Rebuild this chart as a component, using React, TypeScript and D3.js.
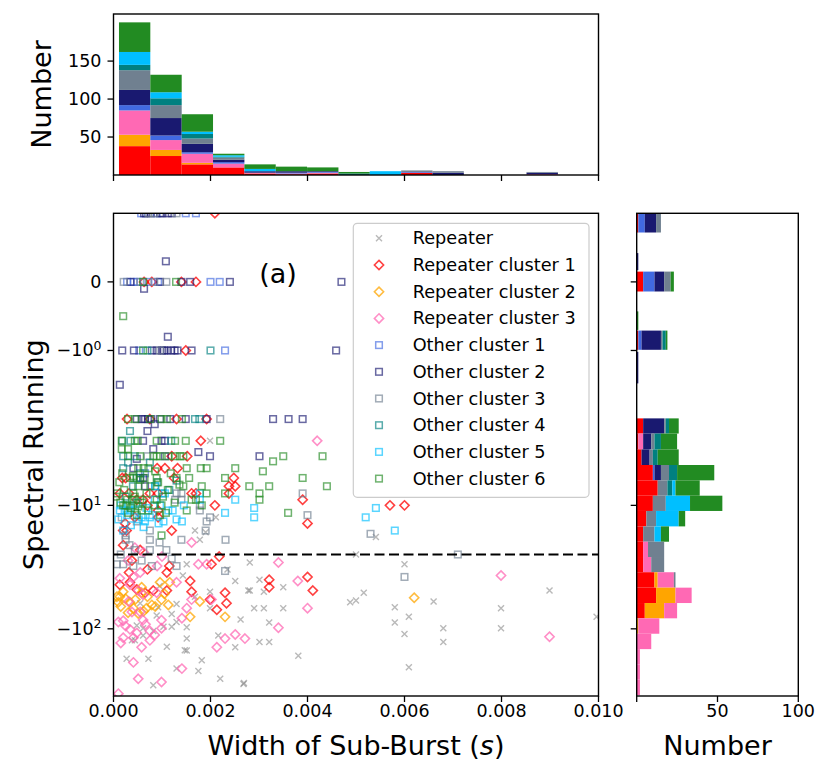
import * as d3 from 'd3'

// widths in ms, spectral running values
const repeater: [number, number][] = [
  [1.51, -30], [1.30, -63], [0.89, -78], [0.61, -99], [1.20, -76], [1.03, -96], [0.82, -104], [1.51, -120],
  [1.51, -150], [0.27, -175], [0.72, -175], [0.38, -124], [1.82, -180], [1.75, -220], [1.30, -210], [0.82, -287],
  [2.20, -254], [1.99, -50], [2.51, -41], [2.68, -280], [2.16, -113], [2.51, -141], [2.78, -49], [1.68, -55],
  [1.99, -68], [0.48, -94], [0.61, -113], [1.20, -96], [2.81, -29], [3.01, -40], [2.81, -49], [3.10, -50],
  [3.50, -46], [2.90, -68], [3.10, -68], [3.50, -68], [3.21, -89], [3.01, -128], [3.21, -128], [3.81, -165],
  [2.69, -275], [4.88, -61], [5.00, -59], [5.16, -51], [5.80, -67], [5.80, -89], [6.00, -30], [6.09, -80],
  [6.00, -110], [6.09, -205], [6.60, -60], [6.80, -99], [6.80, -128], [7.99, -68], [7.99, -99], [8.99, -49],
  [9.96, -80], [5.41, -18], [5.00, -25], [1.99, -3], [2.11, -12.5], [1.68, -16], [1.90, -16.5], [1.78, -19],
  [1.47, -149], [1.51, -97], [1.30, -88], [0.92, -67], [0.44, -124], [1.43, -37], [0.95, -45], [0.55, -62],
  [1.10, -140], [2.35, -33], [2.62, -84],
]
const repCluster1: [number, number][] = [
  [2.09, 1], [0.63, 0], [0.79, 0], [1.40, 0], [1.70, 0], [1.49, -1], [0.28, -2], [1.30, -2], [1.92, -2], [0.75, -2],
  [1.80, -3], [1.20, -4], [1.52, -4], [0.90, -5], [1.06, -5], [1.32, -5], [0.18, -6], [0.25, -6], [1.25, -6],
  [2.48, -6], [2.38, -7], [2.51, -7], [0.13, -8], [0.32, -8], [0.75, -8], [0.92, -8], [1.61, -8], [1.70, -8],
  [2.38, -8], [0.48, -9], [0.61, -9], [3.90, -9], [0.70, -10], [2.09, -10], [5.70, -10], [6.00, -10], [0.92, -11],
  [0.44, -12.5], [0.92, -12.5], [0.24, -14], [4.00, -14], [0.20, -16], [0.27, -16], [1.20, -16], [2.18, -26],
  [2.02, -30], [0.32, -35], [0.13, -44], [0.48, -48], [0.82, -49], [1.10, -35], [1.58, -41], [1.61, -50],
  [1.99, -58], [2.13, -70], [2.30, -51], [2.33, -62], [0.34, -42], [0.65, -51], [1.10, -49], [3.21, -40],
  [3.21, -46], [4.00, -38], [4.11, -49], [0.20, -21], [0.55, -23], [0.38, -28], [1.15, -31], [0.70, -33],
]
const repCluster2: [number, number][] = [
  [0.13, -55], [0.20, -50], [0.10, -61], [0.58, -51], [0.51, -75], [0.79, -64], [0.99, -58], [1.13, -64],
  [0.96, -42], [1.16, -42], [1.78, -60], [1.58, -80], [2.30, -80], [0.34, -61], [0.41, -68], [0.68, -68],
  [0.07, -55], [0.58, -46], [6.20, -56], [0.25, -57], [0.45, -58], [0.62, -72], [0.86, -66], [1.05, -52],
  [0.30, -74], [0.15, -66], [0.70, -55],
]
const repCluster3: [number, number][] = [
  [1.61, -20], [4.20, -3], [0.44, -22], [0.30, -28], [0.90, -31], [0.62, -24], [1.00, -26], [0.13, -39],
  [0.41, -38], [0.55, -35], [0.34, -44], [0.51, -49], [0.61, -53], [0.31, -60], [0.38, -73], [0.55, -73],
  [0.61, -85], [0.10, -88], [0.34, -101], [0.20, -118], [0.41, -118], [0.58, -141], [0.75, -124], [0.99, -85],
  [0.99, -99], [1.41, -82], [1.61, -58], [1.51, -68], [1.75, -30], [1.92, -30], [2.02, -58], [1.30, -42],
  [1.41, -210], [0.51, -254], [0.99, -270], [0.41, -187], [2.30, -120], [2.51, -111], [2.71, -120], [2.13, -141],
  [0.10, -335], [0.75, -104], [0.20, -86], [0.89, -51], [3.40, -29], [3.80, -41], [4.00, -68], [3.40, -98],
  [7.99, -37], [8.99, -116], [0.25, -95], [0.48, -108], [0.15, -130], [0.85, -112], [0.66, -92],
]
const otherCluster1: [number, number][] = [
  [0.57, 1], [0.89, 1], [1.70, 1], [1.49, 1], [0.28, 0], [0.42, 0], [0.72, 0], [2.00, 0], [2.19, 0], [0.49, 0],
  [0.92, 0], [2.30, -1], [0.53, -1], [0.65, -5.5],
]
const otherCluster2: [number, number][] = [
  [0.67, 1], [0.77, 1], [1.01, 1], [1.20, 1], [0.63, 1], [0.96, 1], [1.12, 1], [1.08, 0.3], [0.35, 0], [1.40, 0],
  [1.58, 0], [2.40, 0], [0.63, -0.1], [0.96, 0], [4.70, 0], [1.12, -0.8], [0.18, -1], [0.42, -1], [0.79, -1],
  [0.89, -1], [1.10, -1], [1.19, -1], [1.26, -1], [1.32, -1], [1.61, -1], [4.59, -1], [1.00, -1], [1.04, -1],
  [0.13, -1.5], [0.58, -2], [0.65, -2], [0.71, -2], [0.85, -2.2], [0.96, -2], [1.92, -2], [3.29, -2], [3.61, -2],
  [3.90, -2], [0.48, -2], [1.17, -2], [1.49, -2], [0.78, -2], [0.70, -2.5], [0.61, -3], [0.99, -3], [1.06, -3],
  [0.82, -3.5], [1.06, -4], [1.75, -3.7], [1.99, -4], [3.01, -4], [0.41, -5], [0.55, -6], [0.61, -6], [0.65, -7],
  [0.48, -4.2],
]
const otherCluster3: [number, number][] = [
  [0.72, 1], [1.30, 1], [0.84, 1], [0.55, 0], [0.84, 0], [1.09, 0], [0.21, 0], [0.96, -1], [2.20, -2], [0.70, -4],
  [1.30, -8], [1.40, -8], [3.90, -8], [1.27, -9], [1.40, -9], [1.78, -10], [1.78, -11], [0.17, -12.5], [1.99, -12.5],
  [4.00, -12], [0.48, -13.5], [1.92, -13.5], [0.75, -16], [1.90, -16], [0.25, -17.5], [5.30, -17], [0.25, -19],
  [0.75, -19], [1.40, -19], [2.31, -19], [0.44, -23], [0.75, -23], [1.09, -23], [7.10, -25], [0.07, -30],
  [0.20, -30], [0.41, -31], [0.58, -28], [0.79, -31], [1.30, -31], [2.30, -34], [6.00, -38], [0.33, -21],
  [0.95, -20], [1.20, -27], [0.15, -25],
]
const otherCluster4: [number, number][] = [
  [0.70, -1], [2.00, -1], [1.68, -2], [1.77, -2], [0.34, -2.5], [0.18, -3], [0.35, -3], [1.19, -3], [0.20, -4],
  [0.44, -4], [0.20, -5], [0.48, -6], [0.86, -7], [1.00, -8], [0.30, -4.5], [0.55, -5.5], [0.90, -6.5],
  [1.15, -7.5], [0.40, -7], [0.75, -4.5], [1.30, -6.3], [0.25, -8.5],
]
const otherCluster5: [number, number][] = [
  [0.86, -7], [1.06, -8], [1.78, -8], [1.78, -9], [2.51, -9], [0.31, -10], [0.96, -10], [2.30, -11.5], [5.41, -10.5],
  [0.13, -11], [0.23, -11], [0.34, -11], [1.13, -11], [0.58, -12.5], [0.75, -12.5], [2.90, -12.5], [5.20, -12.5],
  [0.65, -13.5], [1.03, -13.5], [1.41, -13.5], [0.20, -16], [5.80, -16], [2.90, -10.5], [0.15, -10], [0.28, -12],
  [0.45, -11], [0.52, -13], [0.68, -10.5], [0.80, -12], [0.93, -14], [1.22, -11], [0.36, -14.5], [0.10, -13],
  [0.62, -15], [1.45, -10], [0.48, -9.5], [0.85, -9], [1.30, -13],
]
const otherCluster6: [number, number][] = [
  [0.61, 0], [1.29, 0], [0.20, -0.5], [0.61, -1], [0.30, -2], [0.75, -2], [0.99, -2], [1.41, -2], [1.10, -2],
  [0.45, -2], [0.17, -3], [0.44, -3], [0.50, -3], [0.89, -3], [1.27, -3], [1.49, -3], [2.20, -3], [0.17, -3.5],
  [0.30, -3.5], [0.30, -4], [0.55, -4], [0.82, -4], [0.89, -4], [0.96, -4], [1.13, -4], [1.27, -4], [1.37, -4],
  [1.44, -4], [3.50, -4], [4.31, -4], [3.29, -4.4], [0.51, -5], [0.62, -5], [0.72, -5], [1.51, -5], [1.80, -5],
  [1.92, -5], [2.51, -5], [3.08, -5.3], [0.34, -6], [0.41, -6], [0.55, -6.2], [0.89, -6], [1.30, -6], [2.30, -6],
  [3.90, -6], [0.51, -7], [1.44, -7], [1.82, -7], [2.80, -7], [3.21, -7], [4.40, -7], [0.07, -8], [0.41, -8],
  [1.92, -8], [2.30, -8], [3.01, -8], [0.38, -9], [0.55, -9], [0.89, -9], [1.61, -9], [3.01, -9], [0.20, -10],
  [0.25, -10], [0.41, -10], [0.51, -10.2], [0.99, -10], [1.82, -10], [0.58, -11], [1.51, -11], [3.60, -11.5],
  [0.99, -17.5], [0.12, -6.5], [0.22, -7.5], [0.28, -9], [0.36, -10.5], [0.44, -8.5], [0.60, -9.5], [0.68, -8],
  [0.76, -7], [0.84, -10], [0.92, -6.5], [1.02, -8.5], [1.08, -11.5], [1.18, -5.5], [1.26, -9.5], [0.18, -5.5],
  [0.64, -6], [0.30, -11.5], [0.48, -12], [1.56, -6], [1.70, -9], [0.05, -8.5], [0.14, -9.5], [0.72, -11],
  [0.96, -12], [1.12, -7.5], [1.36, -6.8], [0.40, -5.8], [0.86, -5.3],
]

// histogram stacks: order = clusters below
const clusterNames = [
  'Repeater cluster 1', 'Repeater cluster 2', 'Repeater cluster 3',
  'Other cluster 1', 'Other cluster 2', 'Other cluster 3', 'Other cluster 4', 'Other cluster 5', 'Other cluster 6',
]
const clusterColors = ['red', 'orange', 'hotpink', 'royalblue', 'midnightblue', 'slategray', 'teal', 'deepskyblue', 'forestgreen']

// width bins (ms) for the top histogram
const widthBinEdges = [0.113, 0.759, 1.406, 2.052, 2.699, 3.345, 3.991, 4.638, 5.284, 5.931, 6.577, 7.223, 7.870, 8.516, 9.163, 9.809]
const widthCounts = [
  [38, 15, 32, 7, 20, 26, 7, 17, 39],
  [25, 8, 13, 6, 23, 17, 9, 8, 23],
  [14, 2, 12, 2, 11, 7, 6, 3, 23],
  [10, 0, 5, 2, 3, 3, 1, 2, 2],
  [2, 0, 1, 0, 2, 0, 0, 3, 6],
  [1, 0, 1, 1, 2, 0, 0, 0, 6],
  [2, 0, 1, 1, 1, 0, 0, 0, 5],
  [0, 0, 0, 0, 0, 0, 2, 0, 2],
  [0, 0, 0, 0, 0, 0, 0, 5, 0],
  [3, 0, 0, 1, 0, 2, 0, 0, 0],
  [0, 0, 0, 0, 3, 2, 0, 0, 0],
  [0, 0, 0, 0, 0, 0, 0, 0, 0],
  [0, 0, 0, 0, 0, 0, 0, 0, 0],
  [0, 0, 1, 0, 2, 1, 0, 0, 0],
  [0, 0, 0, 0, 0, 0, 0, 0, 0],
]

// spectral running bins for the side histogram [upper, lower]
const runBins: [number, number][] = [
  [1.0, 0.72], [0.42, 0.17], [0.15, -0.14], [-0.43, -0.70], [-0.71, -0.99], [-1.02, -1.48],
  [-1.99, -2.62], [-2.62, -3.52], [-3.52, -4.71], [-4.71, -6.27], [-6.27, -8.35], [-8.35, -11.1],
  [-11.1, -14.8], [-14.8, -19.7], [-19.7, -26.2], [-26.2, -34.8], [-34.8, -46.4], [-46.4, -61.8],
  [-61.8, -82.2], [-82.2, -109.6], [-109.6, -146], [-146, -194], [-194, -258], [-258, -344],
]
const runCounts = [
  [1, 0, 0, 4, 7, 3, 0, 0, 0],
  [0, 0, 0, 0, 1, 0, 0, 0, 0],
  [4, 0, 0, 7, 6, 4, 0, 0, 2],
  [0, 0, 0, 0, 0, 0, 0, 0, 1],
  [1, 0, 0, 2, 12, 1, 2, 0, 1],
  [0, 0, 0, 0, 1, 0, 0, 0, 0],
  [4, 0, 0, 0, 13, 1, 2, 0, 6],
  [1, 0, 3, 0, 5, 2, 4, 0, 10],
  [3, 0, 0, 0, 5, 2, 3, 0, 13],
  [10, 0, 0, 1, 4, 5, 5, 0, 23],
  [13, 0, 0, 0, 0, 6, 3, 2, 15],
  [10, 0, 0, 0, 0, 8, 0, 15, 20],
  [6, 0, 0, 0, 0, 6, 0, 14, 4],
  [4, 0, 0, 0, 0, 7, 0, 4, 5],
  [4, 0, 3, 0, 0, 10, 0, 0, 0],
  [4, 0, 5, 0, 0, 8, 0, 0, 0],
  [11, 2, 10, 0, 0, 1, 0, 0, 0],
  [12, 12, 10, 0, 0, 0, 0, 0, 0],
  [5, 12, 8, 0, 0, 0, 0, 0, 0],
  [0, 1, 13, 0, 0, 0, 0, 0, 0],
  [0, 0, 9, 0, 0, 0, 0, 0, 0],
  [0, 0, 2, 0, 0, 0, 0, 0, 0],
  [0, 0, 2, 0, 0, 0, 0, 0, 0],
  [0, 0, 2, 0, 0, 0, 0, 0, 0],
]

const xTicks = [0, 0.002, 0.004, 0.006, 0.008, 0.010]
const yTicks: [number, string | null][] = [[0, null], [-1, '0'], [-10, '1'], [-100, '2']]
const topTicks = [50, 100, 150]
const sideTicks = [50, 100]
const cutoff = -25

// matplotlib-style symlog transform (linthresh 2, linscale 1)
const LINTHRESH = 2
const LINSCALE = 1 / (1 - 1 / 10)
const symT = (v: number) => {
  const a = Math.abs(v)
  return a <= LINTHRESH ? v * LINSCALE : Math.sign(v) * LINTHRESH * (LINSCALE + Math.log10(a / LINTHRESH))
}

const FONT = 'DejaVu Sans, sans-serif'
const M = { left: 113.5, right: 598.5, top: 213.3, bottom: 696 }
const T = { top: 14, bottom: 175 }
const S = { left: 636.7, right: 798.3 }

export default function App() {
  const x = d3.scaleLinear().domain([0, 0.010]).range([M.left, M.right])
  const yLin = d3.scaleLinear().domain([symT(1), symT(-350)]).range([M.top, M.bottom])
  const y = (v: number) => yLin(symT(v))
  const yTop = d3.scaleLinear().domain([0, 212]).range([T.bottom, T.top])
  const xSide = d3.scaleLinear().domain([0, 100]).range([S.left, S.right])

  const series = [
    { name: 'Repeater', data: repeater, color: 'gray', marker: 'x' },
    { name: clusterNames[0], data: repCluster1, color: clusterColors[0], marker: 'd' },
    { name: clusterNames[1], data: repCluster2, color: clusterColors[1], marker: 'd' },
    { name: clusterNames[2], data: repCluster3, color: clusterColors[2], marker: 'd' },
    { name: clusterNames[3], data: otherCluster1, color: clusterColors[3], marker: 's' },
    { name: clusterNames[4], data: otherCluster2, color: clusterColors[4], marker: 's' },
    { name: clusterNames[5], data: otherCluster3, color: clusterColors[5], marker: 's' },
    { name: clusterNames[6], data: otherCluster4, color: clusterColors[6], marker: 's' },
    { name: clusterNames[7], data: otherCluster5, color: clusterColors[7], marker: 's' },
    { name: clusterNames[8], data: otherCluster6, color: clusterColors[8], marker: 's' },
  ]

  const marker = (kind: string, color: string, cx: number, cy: number, key: string | number) => {
    if (kind === 'x') {
      return <path key={key} d={`M${cx - 3},${cy - 3}L${cx + 3},${cy + 3}M${cx - 3},${cy + 3}L${cx + 3},${cy - 3}`}
        stroke={color} strokeOpacity={0.55} strokeWidth={1.4} fill="none" />
    }
    if (kind === 'd') {
      const r = 4.6
      return <path key={key} d={`M${cx},${cy - r}L${cx + r},${cy}L${cx},${cy + r}L${cx - r},${cy}Z`}
        stroke={color} strokeOpacity={0.75} strokeWidth={1.6} fill="none" />
    }
    const h = 3.3
    return <rect key={key} x={cx - h} y={cy - h} width={2 * h} height={2 * h}
      stroke={color} strokeOpacity={0.65} strokeWidth={1.5} fill="none" />
  }

  const stacks = (counts: number[]) => {
    let acc = 0
    return counts.map(c => { const s = [acc, acc + c]; acc += c; return s })
  }

  const tickStyle = { stroke: '#000', strokeWidth: 1.3 }

  return (
    <svg width={831} height={778} style={{ position: 'absolute', left: 0, top: 0, background: '#fff' }}
      fontFamily={FONT}>
      <defs>
        <clipPath id="mainclip"><rect x={M.left} y={M.top} width={M.right - M.left} height={M.bottom - M.top} /></clipPath>
      </defs>

      {/* top histogram */}
      <g>
        {widthCounts.map((counts, i) => stacks(counts).map(([a, b], j) => b > a ? (
          <rect key={`t${i}-${j}`} x={x(widthBinEdges[i] / 1000)} width={x(widthBinEdges[i + 1] / 1000) - x(widthBinEdges[i] / 1000)}
            y={yTop(b)} height={yTop(a) - yTop(b)} fill={clusterColors[j]} />
        ) : null))}
        <rect x={M.left} y={T.top} width={M.right - M.left} height={T.bottom - T.top} fill="none" stroke="#000" strokeWidth={1.4} />
        {xTicks.map(t => <line key={t} x1={x(t)} x2={x(t)} y1={T.bottom} y2={T.bottom + 6} {...tickStyle} />)}
        {topTicks.map(t => (
          <g key={t}>
            <line x1={M.left - 6} x2={M.left} y1={yTop(t)} y2={yTop(t)} {...tickStyle} />
            <text x={M.left - 12} y={yTop(t)} textAnchor="end" dominantBaseline="central" fontSize={17.5}>{t}</text>
          </g>
        ))}
        <text transform={`translate(51,${(T.top + T.bottom) / 2}) rotate(-90)`} textAnchor="middle" fontSize={27}>Number</text>
      </g>

      {/* main scatter */}
      <g clipPath="url(#mainclip)">
        {series.map(s => (
          <g key={s.name}>
            {s.data.map((d, i) => marker(s.marker, s.color, x(d[0] / 1000), y(d[1]), i))}
          </g>
        ))}
        <line x1={M.left} x2={M.right} y1={y(cutoff)} y2={y(cutoff)} stroke="#000" strokeWidth={2.2} strokeDasharray="10,4.5" />
      </g>
      <rect x={M.left} y={M.top} width={M.right - M.left} height={M.bottom - M.top} fill="none" stroke="#000" strokeWidth={1.4} />
      {xTicks.map(t => (
        <g key={t}>
          <line x1={x(t)} x2={x(t)} y1={M.bottom} y2={M.bottom + 6} {...tickStyle} />
          <text x={x(t)} y={M.bottom + 21} textAnchor="middle" fontSize={17.5}>{d3.format('.3f')(t)}</text>
        </g>
      ))}
      {yTicks.map(([v, exp]) => (
        <g key={v}>
          <line x1={M.left - 6} x2={M.left} y1={y(v)} y2={y(v)} {...tickStyle} />
          <text x={M.left - 12} y={y(v)} textAnchor="end" dominantBaseline="central" fontSize={17.5}>
            {exp === null ? '0' : <><tspan>−10</tspan><tspan dy="-0.45em" fontSize={12.5}>{exp}</tspan></>}
          </text>
        </g>
      ))}
      <text x={(M.left + M.right) / 2} y={755} textAnchor="middle" fontSize={27}>
        Width of Sub-Burst (<tspan fontStyle="italic">s</tspan>)
      </text>
      <text transform={`translate(43,${(M.top + M.bottom) / 2}) rotate(-90)`} textAnchor="middle" fontSize={27}>Spectral Running</text>
      <text x={278} y={273} textAnchor="middle" dominantBaseline="central" fontSize={27}>(a)</text>

      {/* legend */}
      <g>
        <rect x={353.3} y={223.3} width={235.7} height={274} rx={4} fill="#fff" fillOpacity={0.8} stroke="#ccc" strokeWidth={1.2} />
        {series.map((s, i) => (
          <g key={s.name}>
            {marker(s.marker, s.color, 379, 238.3 + i * 26.7, 'm')}
            <text x={412.7} y={238.3 + i * 26.7} dominantBaseline="central" fontSize={17.7}>{s.name}</text>
          </g>
        ))}
      </g>

      {/* side histogram */}
      <g>
        {runCounts.map((counts, i) => stacks(counts).map(([a, b], j) => b > a ? (
          <rect key={`s${i}-${j}`} x={xSide(a)} width={xSide(b) - xSide(a)}
            y={y(runBins[i][0])} height={y(runBins[i][1]) - y(runBins[i][0])} fill={clusterColors[j]} />
        ) : null))}
        <rect x={S.left} y={M.top} width={S.right - S.left} height={M.bottom - M.top} fill="none" stroke="#000" strokeWidth={1.4} />
        {yTicks.map(([v]) => <line key={v} x1={S.left - 6} x2={S.left} y1={y(v)} y2={y(v)} {...tickStyle} />)}
        {[0, ...sideTicks].map(t => <line key={t} x1={xSide(t)} x2={xSide(t)} y1={M.bottom} y2={M.bottom + 6} {...tickStyle} />)}
        {sideTicks.map(t => (
          <text key={t} x={xSide(t)} y={M.bottom + 21} textAnchor="middle" fontSize={17.5}>{t}</text>
        ))}
        <text x={(S.left + S.right) / 2} y={755} textAnchor="middle" fontSize={27}>Number</text>
      </g>
    </svg>
  )
}
